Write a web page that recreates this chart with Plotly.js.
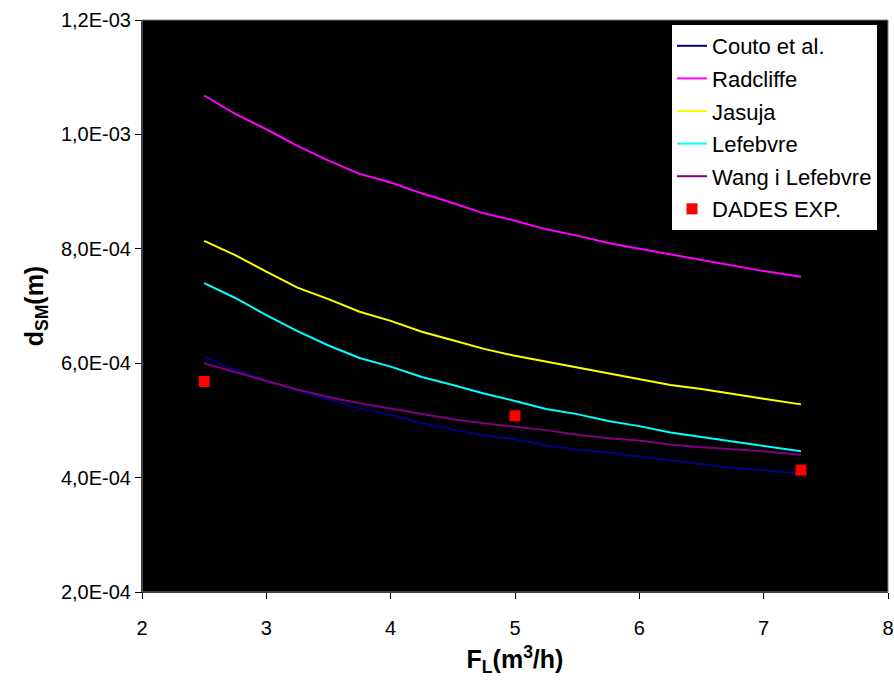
<!DOCTYPE html>
<html>
<head>
<meta charset="utf-8">
<script src="https://cdn.plot.ly/plotly-3.0.1.min.js"></script>
<style>html,body{margin:0;padding:0;background:#fff;}#chart{width:894px;height:684px;}</style>
</head>
<body>
<div id="chart"></div>
<script>
const flow = [2.5,2.75,3.0,3.25,3.5,3.75,4.0,4.25,4.5,4.75,5.0,5.25,5.5,5.75,6.0,6.25,6.5,6.75,7.0,7.3];
const couto = [0.611,0.588,0.570,0.552,0.537,0.521,0.510,0.495,0.484,0.474,0.467,0.456,0.449,0.444,0.437,0.430,0.423,0.417,0.413,0.407];
const radcliffe = [1.068,1.036,1.009,0.980,0.954,0.931,0.916,0.897,0.880,0.862,0.849,0.834,0.823,0.810,0.800,0.790,0.780,0.771,0.761,0.751];
const jasuja = [0.814,0.789,0.760,0.732,0.712,0.690,0.674,0.655,0.640,0.625,0.613,0.603,0.592,0.582,0.572,0.562,0.555,0.547,0.538,0.528];
const lefebvre = [0.740,0.714,0.684,0.656,0.631,0.609,0.594,0.576,0.562,0.547,0.534,0.520,0.511,0.499,0.490,0.479,0.471,0.463,0.455,0.446];
const wang = [0.600,0.584,0.569,0.554,0.541,0.530,0.521,0.512,0.502,0.495,0.489,0.483,0.475,0.469,0.465,0.458,0.453,0.450,0.446,0.440];
const expFlow = [2.5,5.0,7.3];
const expD = [0.568,0.508,0.413];
const yTickVals = [0.2,0.4,0.6,0.8,1.0,1.2];
const yTickText = ["2,0E-04","4,0E-04","6,0E-04","8,0E-04","1,0E-03","1,2E-03"];
const xTickVals = [2,3,4,5,6,7,8];

const toM = a => a.map(v => v*1e-3);
const FONT = '"Liberation Sans", Arial, sans-serif';

function line(name, y, color){
  return {x: flow, y: toM(y), name: name, legendgroup: name, type:'scatter', mode:'lines',
          line:{color:color, width:2}};
}
const data = [
  line('Couto et al.', couto, '#000080'),
  line('Radcliffe', radcliffe, '#FF00FF'),
  line('Jasuja', jasuja, '#FFFF00'),
  line('Lefebvre', lefebvre, '#00FFFF'),
  line('Wang i Lefebvre', wang, '#800080'),
  {x: expFlow, y: toM(expD), name:'DADES EXP.', legendgroup:'exp', type:'scatter', mode:'markers',
   marker:{symbol:'square', size:11, color:'#FF0000'}}
];

const layout = {
  width:894, height:684,
  margin:{l:142, r:6, t:20, b:92},
  paper_bgcolor:'#ffffff', plot_bgcolor:'#000000',
  font:{family:FONT, size:20, color:'#000'},
  showlegend:true,
  legend:{x:0.9866, xanchor:'right', y:0.993, yanchor:'top',
          bgcolor:'#ffffff', bordercolor:'#000000', borderwidth:1,
          tracegroupgap:1, itemwidth:30,
          font:{family:FONT, size:22, color:'#000'}},
  xaxis:{range:[2,8], tickvals:xTickVals, ticks:'outside', ticklen:6, tickcolor:'#000',
         ticklabelstandoff:12,
         showgrid:false, zeroline:false, showline:true, linecolor:'#000', linewidth:1,
         tickfont:{family:FONT, size:20},
         title:{text:'<b>F<sub>L</sub>(m<sup>3</sup>/h)</b>', font:{family:FONT, size:25}, standoff:12}},
  yaxis:{range:[0.2e-3,1.2e-3], tickvals:toM(yTickVals), ticktext:yTickText,
         ticks:'outside', ticklen:6, tickcolor:'#000',
         showgrid:false, zeroline:false, showline:true, linecolor:'#000', linewidth:1,
         tickfont:{family:FONT, size:20},
         title:{text:'<b>d<sub>SM</sub>(m)</b>', font:{family:FONT, size:25}, standoff:10}},
  shapes:[{type:'rect', xref:'paper', yref:'paper', x0:0, x1:1, y0:0, y1:1,
           line:{color:'#808080', width:1}, layer:'above'}]
};
Plotly.newPlot('chart', data, layout, {displayModeBar:false, staticPlot:true});
</script>
</body>
</html>
